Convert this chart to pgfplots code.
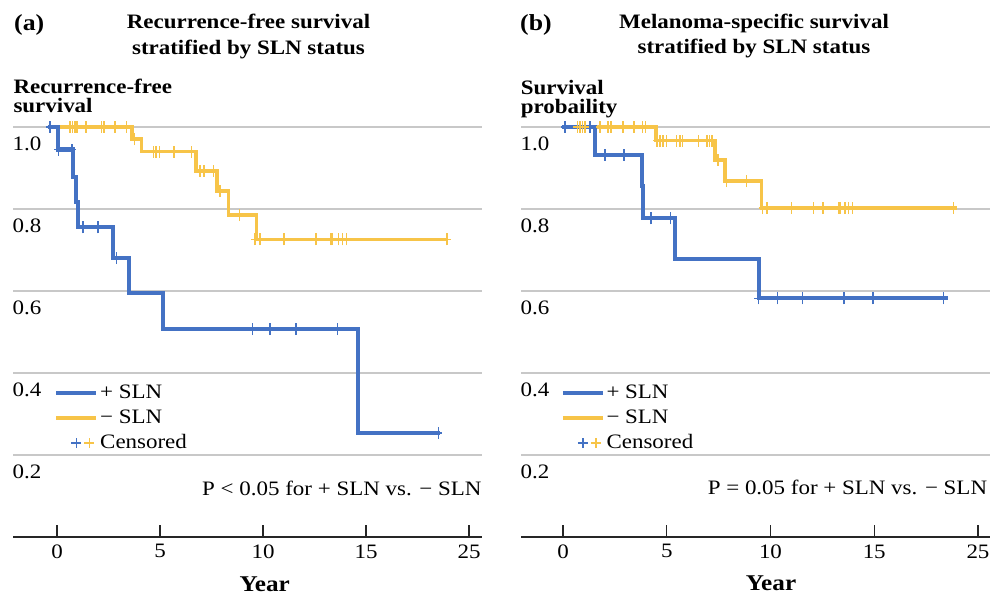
\documentclass[border=0pt]{standalone}
\usepackage{fontspec}
\setmainfont{Liberation Serif}[FakeStretch=1.12]
\usepackage{pgfplots}
\pgfplotsset{compat=1.18}
\definecolor{cblue}{RGB}{68,114,196}
\definecolor{cyel}{RGB}{247,196,72}
\definecolor{cgrid}{RGB}{200,200,200}
\pgfdeclareplotmark{cens}{%
 \pgfpathmoveto{\pgfqpoint{0pt}{-6pt}}\pgfpathlineto{\pgfqpoint{0pt}{6pt}}%
 \pgfpathmoveto{\pgfqpoint{-4pt}{0pt}}\pgfpathlineto{\pgfqpoint{4pt}{0pt}}%
 \pgfusepathqstroke}
\newcommand{\fs}{\fontsize{20.5}{25}\selectfont}
\newcommand{\fb}{\fontsize{20.5}{25}\selectfont\bfseries}
\pgfplotsset{kmstyle/.style={
  scale only axis, width=469pt, height=410pt, ymin=0, ymax=1,
  axis x line=bottom, axis y line=left,
  x axis line style={-, line width=1.3pt, black!85},
  y axis line style={draw=none},
  xtick={0,5,10,15,20}, xticklabels={0,5,10,15,25},
  ytick={0.2,0.4,0.6,0.8,1.0}, yticklabels={0.2,0.4,0.6,0.8,1.0},
  tick align=inside, major tick length=12pt,
  xtick style={line width=1.2pt, black!85},
  ytick style={draw=none},
  ymajorgrids, grid style={cgrid, line width=1.3pt},
  tick label style={font=\fs},
  xticklabel style={yshift=-4pt},
  yticklabel style={anchor=north west, xshift=-4pt, yshift=-6.5pt},
  clip=false,
  legend style={draw=none, fill=none, font=\fs, anchor=north west, inner sep=0pt, outer sep=0pt,
    legend cell align=left, row sep=3pt,
    nodes={text height=14pt, text depth=4pt, inner sep=2pt}},
}}
\begin{document}
\begin{tikzpicture}
\path[use as bounding box] (0,0) rectangle (995pt,599pt);
% ---------- panel (a)
\begin{axis}[kmstyle, at={(13pt,62pt)}, anchor=south west,
  xmin=-2.136, xmax=20.63,
  legend style={at={(0.0889,0.378)}}]
\addlegendimage{legend image code/.code={\draw[cblue, line width=3.5pt] (0pt,0pt) -- (40pt,0pt);}}
\addlegendentry{+ SLN}
\addlegendimage{legend image code/.code={\draw[cyel, line width=3.5pt] (0pt,0pt) -- (40pt,0pt);}}
\addlegendentry{− SLN}
\addlegendimage{legend image code/.code={\draw[cblue,line width=1.5pt] (20pt,-5pt)--(20pt,5pt) (15pt,0pt)--(25pt,0pt); \draw[cyel,line width=1.5pt] (33pt,-5pt)--(33pt,5pt) (28pt,0pt)--(38pt,0pt);}}
\addlegendentry{Censored}
\addplot[forget plot, const plot, cyel, line width=3.6pt] coordinates {
(0.06,1.0) (3.65,0.970) (4.11,0.940) (6.75,0.893) (7.78,0.844) (8.32,0.785) (9.69,0.726) (18.98,0.726)};
\addplot[forget plot, const plot, cblue, line width=4.1pt] coordinates {
(-0.44,1.0) (0.05,0.945) (0.76,0.879) (0.92,0.818) (1.03,0.755) (2.73,0.680) (3.51,0.596) (5.13,0.507) (14.63,0.254) (18.6,0.254)};
\addplot[forget plot, only marks, mark=cens, cblue, mark options={line width=1.5pt}] coordinates {
(-0.34,1.0) (0.07,0.945) (0.72,0.945) (1.25,0.755) (2.0,0.755) (2.9,0.680) (9.48,0.507) (10.34,0.507) (11.6,0.507) (13.61,0.507) (18.51,0.254)};
\addplot[forget plot, only marks, mark=cens, cyel, mark options={line width=1.5pt}] coordinates {
(0.63,1) (0.76,1) (0.87,1) (0.96,1) (1.41,1) (2.17,1) (2.28,1) (2.82,1) (3.38,1)
(3.75,0.970)
(4.68,0.940) (4.81,0.940) (4.97,0.940) (5.68,0.940) (6.54,0.940)
(6.94,0.893) (7.14,0.893) (7.59,0.893)
(7.91,0.844) (8.85,0.785)
(9.61,0.726) (9.85,0.726) (11.03,0.726) (12.57,0.726) (13.3,0.726) (13.36,0.726) (13.66,0.726) (13.87,0.726) (14.06,0.726) (18.92,0.726)};
\end{axis}
% ---------- panel (b)
\begin{axis}[kmstyle, at={(521pt,62pt)}, anchor=south west,
  xmin=-2.024, xmax=20.58,
  legend style={at={(0.0853,0.378)}}]
\addlegendimage{legend image code/.code={\draw[cblue, line width=3.5pt] (0pt,0pt) -- (40pt,0pt);}}
\addlegendentry{+ SLN}
\addlegendimage{legend image code/.code={\draw[cyel, line width=3.5pt] (0pt,0pt) -- (40pt,0pt);}}
\addlegendentry{− SLN}
\addlegendimage{legend image code/.code={\draw[cblue,line width=1.5pt] (20pt,-5pt)--(20pt,5pt) (15pt,0pt)--(25pt,0pt); \draw[cyel,line width=1.5pt] (33pt,-5pt)--(33pt,5pt) (28pt,0pt)--(38pt,0pt);}}
\addlegendentry{Censored}
\addplot[forget plot, const plot, cyel, line width=3.6pt] coordinates {
(0.58,1.0) (4.48,0.967) (7.33,0.920) (7.81,0.868) (9.57,0.802) (19.0,0.802)};
\addplot[forget plot, const plot, cblue, line width=4.1pt] coordinates {
(-0.06,1.0) (1.54,0.932) (3.79,0.856) (3.84,0.777) (5.40,0.677) (9.45,0.582) (18.57,0.582)};
\addplot[forget plot, only marks, mark=cens, cblue, mark options={line width=1.5pt}] coordinates {
(0.1,1.0) (1.3,1.0) (2.02,0.932) (2.94,0.932) (4.23,0.777) (5.19,0.777) (9.41,0.582) (10.33,0.582) (11.55,0.582) (13.54,0.582) (14.93,0.582) (18.33,0.582)};
\addplot[forget plot, only marks, mark=cens, cyel, mark options={line width=1.5pt}] coordinates {
(0.69,1) (0.82,1) (0.95,1) (1.07,1) (1.78,1) (2.18,1) (2.31,1) (2.88,1) (3.42,1) (3.84,1) (3.97,1)
(4.54,0.967) (4.67,0.967) (4.83,0.967) (5.0,0.967) (5.48,0.967) (5.64,0.967) (5.77,0.967) (6.52,0.967) (6.93,0.967) (7.05,0.967) (7.18,0.967)
(7.48,0.920) (7.89,0.868) (8.85,0.868)
(9.62,0.802) (9.82,0.802) (11.02,0.802) (12.07,0.802) (12.52,0.802) (13.27,0.802) (13.35,0.802) (13.59,0.802) (13.75,0.802) (13.96,0.802) (18.81,0.802)};
\end{axis}
% ---------- texts
\node[anchor=base west, inner sep=0pt, font=\fontsize{23}{27}\selectfont\bfseries] at (14pt,568pt) {(a)};
\node[anchor=base, inner sep=0pt, font=\fb] at (248.5pt,570.7pt) {Recurrence-free survival};
\node[anchor=base, inner sep=0pt, font=\fb] at (248.5pt,544.7pt) {stratified by SLN status};
\node[anchor=base west, inner sep=0pt, font=\fb] at (13.3pt,505.7pt) {Recurrence-free};
\node[anchor=base west, inner sep=0pt, font=\fb] at (13.3pt,486.3pt) {survival};
\node[anchor=base east, inner sep=0pt, font=\fs] at (481.7pt,103.3pt) {P < 0.05 for + SLN vs. − SLN};
\node[anchor=base, inner sep=0pt, font=\fontsize{22.5}{26}\selectfont\bfseries] at (264.7pt,7pt) {Year};
\node[anchor=base west, inner sep=0pt, font=\fontsize{23}{27}\selectfont\bfseries] at (520pt,568pt) {(b)};
\node[anchor=base, inner sep=0pt, font=\fb] at (754pt,570.7pt) {Melanoma-specific survival};
\node[anchor=base, inner sep=0pt, font=\fb] at (754pt,545.7pt) {stratified by SLN status};
\node[anchor=base west, inner sep=0pt, font=\fb] at (520.7pt,504.7pt) {Survival};
\node[anchor=base west, inner sep=0pt, font=\fb] at (520.7pt,485.7pt) {probaility};
\node[anchor=base east, inner sep=0pt, font=\fs] at (987.3pt,104pt) {P = 0.05 for + SLN vs. − SLN};
\node[anchor=base, inner sep=0pt, font=\fontsize{22.5}{26}\selectfont\bfseries] at (771pt,8pt) {Year};
\end{tikzpicture}
\end{document}
